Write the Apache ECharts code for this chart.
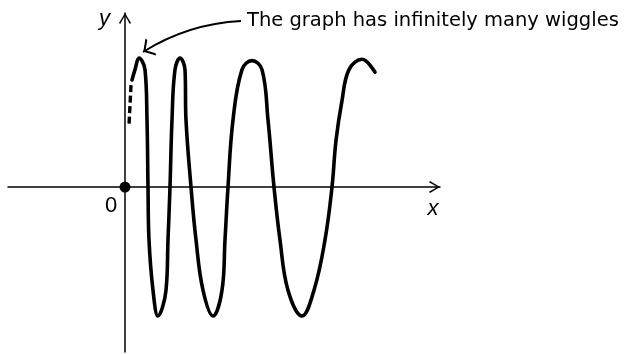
<!DOCTYPE html>
<html>
<head>
<meta charset="utf-8">
<script src="https://cdn.jsdelivr.net/npm/echarts@6/dist/echarts.min.js"></script>
<style>
  html, body { margin: 0; padding: 0; background: #fff; }
  #chart { width: 628px; height: 354px; }
</style>
</head>
<body>
<div id="chart"></div>
<script>
// Sketched curve: x positions and heights (1 = crest height)
const wiggleX = [7, 10, 14, 20, 22, 23, 24, 28, 33, 41, 43, 45, 47, 50, 55, 60, 61, 66,
                 71, 78, 88, 97, 100, 103, 108, 117, 127, 137, 143, 149, 155, 163, 177,
                 189, 200, 207, 211, 217, 224, 237, 250];
const wiggleY = [0.83, 0.91, 1.00, 0.91, 0.52, 0, -0.41, -0.80, -1.00, -0.80, -0.41, 0, 0.52, 0.91, 1.00, 0.91, 0.52, 0,
                 -0.41, -0.80, -1.00, -0.80, -0.41, 0, 0.52, 0.91, 0.98, 0.91, 0.52, 0, -0.41, -0.80, -1.00,
                 -0.80, -0.41, 0, 0.36, 0.67, 0.91, 0.99, 0.89];

// Dashed continuation towards the y axis
const dashX = [6, 4];
const dashY = [0.79, 0.48];

// Axis extents
const xRange = [-117, 315];
const yRange = [-1.279, 1.349];

// Texts
const xName = 'x';
const yName = 'y';
const originLabel = '0';
const noteText = 'The graph has infinitely many wiggles';
// Callout from the note to the first crest
const noteFrom = [116, 1.287];
const noteTo = [18, 1.047];

const zip = (xs, ys) => xs.map((x, i) => [x, ys[i]]);

// Open chevron arrowheads (tip pointing up, rotated by the library)
const axisArrow = 'path://M6 0 L12 10 L10.8 11 L6 2.6 L1.2 11 L0 10 Z';
const noteArrow = 'path://M5 0 L5.01 0 Z M5 10 L10 18.6 L8.9 19.4 L5 12.6 L1.1 19.4 L0 18.6 Z';

const axisCommon = {
  type: 'value',
  nameLocation: 'end',
  axisLine: {
    onZero: true,
    symbol: ['none', axisArrow],
    symbolSize: [12, 11],
    symbolOffset: [0, -5.5],
    lineStyle: { color: '#000', width: 1.5 }
  },
  axisTick: { show: false },
  axisLabel: { show: false },
  splitLine: { show: false }
};

const chart = echarts.init(document.getElementById('chart'));
chart.setOption({
  animation: false,
  backgroundColor: '#ffffff',
  title: {
    text: noteText,
    left: 247,
    top: 11,
    padding: 0,
    textStyle: {
      fontFamily: 'DejaVu Sans',
      fontSize: 19.5,
      fontWeight: 'normal',
      color: '#000',
      lineHeight: 20
    }
  },
  grid: { left: 8, right: 188, top: 13, bottom: 2 },
  xAxis: Object.assign({}, axisCommon, {
    min: xRange[0],
    max: xRange[1],
    name: xName,
    nameGap: -7,
    nameTextStyle: {
      fontFamily: 'Liberation Sans',
      fontStyle: 'italic',
      fontSize: 22,
      color: '#000',
      align: 'center',
      verticalAlign: 'top',
      lineHeight: 22,
      padding: [11, 0, 0, 0]
    }
  }),
  yAxis: Object.assign({}, axisCommon, {
    min: yRange[0],
    max: yRange[1],
    name: yName,
    nameGap: -6,
    nameTextStyle: {
      fontFamily: 'Liberation Sans',
      fontStyle: 'italic',
      fontSize: 22,
      color: '#000',
      align: 'right',
      verticalAlign: 'middle',
      padding: [0, 15, 0, 0]
    }
  }),
  series: [
    {
      name: 'wiggles',
      type: 'line',
      data: zip(wiggleX, wiggleY),
      smooth: 0.4,
      showSymbol: false,
      lineStyle: { color: '#000', width: 3.6, cap: 'round', join: 'round' },
      z: 3
    },
    {
      name: 'dashed',
      type: 'line',
      data: zip(dashX, dashY),
      showSymbol: false,
      lineStyle: { color: '#000', width: 3.4, type: [7, 3.5] },
      z: 3
    },
    {
      name: 'note',
      type: 'lines',
      coordinateSystem: 'cartesian2d',
      silent: true,
      symbol: ['none', noteArrow],
      symbolSize: [10, 20],
      lineStyle: { color: '#000', width: 1.8, opacity: 1, curveness: -0.13 },
      data: [{ coords: [noteFrom, noteTo] }],
      z: 3
    },
    {
      name: 'origin',
      type: 'scatter',
      data: [[0, 0]],
      symbol: 'circle',
      symbolSize: 11,
      itemStyle: { color: '#000', opacity: 1 },
      label: {
        show: true,
        formatter: originLabel,
        position: 'bottom',
        distance: 4,
        offset: [-14, -2],
        fontFamily: 'Liberation Sans',
        fontSize: 22,
        color: '#000'
      },
      z: 4
    }
  ]
});
</script>
</body>
</html>
